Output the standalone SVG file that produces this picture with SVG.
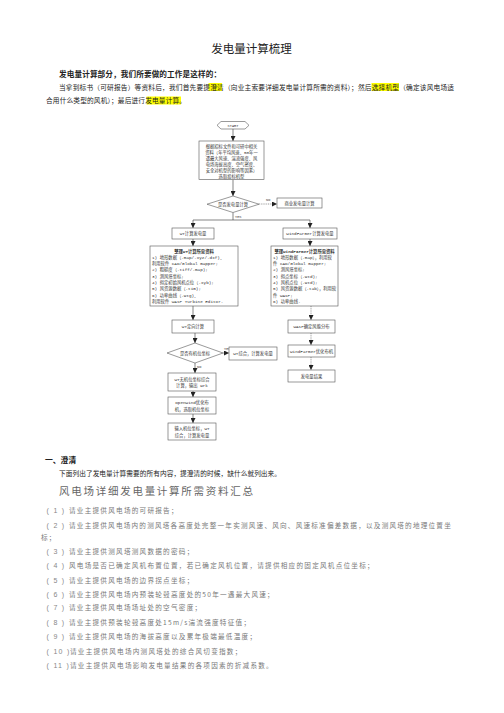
<svg xmlns="http://www.w3.org/2000/svg" width="504" height="713" viewBox="0 0 504 713">
<style>
.t{font-family:"Noto Sans CJK SC","Liberation Sans",sans-serif;fill:#222}
.fc{font-family:"Liberation Mono","Noto Sans CJK SC",monospace;font-size:4.3px;fill:#333}
.box{fill:#fff;stroke:#555;stroke-width:0.6}
.ln{fill:none;stroke:#333;stroke-width:0.6}
.dl{fill:none;stroke:#555;stroke-width:0.6;stroke-dasharray:1 0.8}
.hl{fill:#ffff00}
.li{font-family:"Noto Sans CJK SC","Liberation Sans",sans-serif;font-size:6.6px;fill:#777;letter-spacing:1.25px}
.num{font-family:"Liberation Sans","Noto Sans CJK SC",sans-serif;font-size:7px;fill:#888;letter-spacing:1.3px}
.lab{font-family:"Liberation Mono",monospace;font-size:3.6px;fill:#333}
</style>
<defs>
<marker id="ar" viewBox="0 0 6 6" refX="6" refY="3" markerWidth="5" markerHeight="5" markerUnits="userSpaceOnUse" orient="auto"><path d="M0,0L6,3L0,6z" fill="#222"/></marker>
</defs>

<g id="title">
<text class="t" x="251.5" y="53" font-size="11.5" text-anchor="middle">发电量计算梳理</text>
<text class="t" x="59" y="76.5" font-size="7.6" font-weight="bold" textLength="162">发电量计算部分，我们所要做的工作是这样的：</text>
<rect class="hl" x="208.5" y="83" width="13.5" height="8"/>
<rect class="hl" x="371.5" y="83" width="27.5" height="8"/>
<rect class="hl" x="146.5" y="96.5" width="34.5" height="8"/>
<text class="t" x="59" y="89.5" font-size="6.7" textLength="395">当拿到标书（可研报告）等资料后，我们首先要提澄清（向业主索要详细发电量计算所需的资料）；然后选择机型（确定该风电场适</text>
<text class="t" x="46" y="103" font-size="6.7" textLength="140">合用什么类型的风机）；最后进行发电量计算。</text>
</g>

<g id="connectors">
<path class="ln" d="M233,129V141" marker-end="url(#ar)"/>
<path class="ln" d="M233,179.5V196" marker-end="url(#ar)"/>
<path class="dl" d="M259,204H277" marker-end="url(#ar)"/>
<path class="ln" d="M233,212.5V220H193V228" marker-end="url(#ar)"/>
<path class="ln" d="M233,220H310V228" marker-end="url(#ar)"/>
<path class="ln" d="M193,239V246" marker-end="url(#ar)"/>
<path class="ln" d="M310,239V246" marker-end="url(#ar)"/>
<path class="ln" d="M193,306V320" marker-end="url(#ar)"/>
<path class="ln" d="M195,333V343" marker-end="url(#ar)"/>
<path class="dl" d="M223,353H229" marker-end="url(#ar)"/>
<path class="ln" d="M195,363V373" marker-end="url(#ar)"/>
<path class="ln" d="M193,391V397" marker-end="url(#ar)"/>
<path class="ln" d="M193,414V423" marker-end="url(#ar)"/>
<path class="dl" d="M311,306V320" marker-end="url(#ar)"/>
<path class="dl" d="M311,333V345" marker-end="url(#ar)"/>
<path class="dl" d="M311,357V370" marker-end="url(#ar)"/>
<text class="lab" x="266" y="201">NO</text>
<text class="lab" x="235" y="217.5">YES</text>
<text class="lab" x="224" y="349.5">YES</text>
<text class="lab" x="197" y="367.5">NO</text>
</g>

<g id="start">
<path class="box" d="M221,121.5H245L249,125.3L245,129H221L217,125.3Z"/>
<text class="lab" x="233" y="126.8" text-anchor="middle">START</text>
</g>

<g id="select-model">
<rect class="box" x="199" y="141" width="65" height="38.5"/>
<text class="fc" x="231.5" y="147.5" text-anchor="middle">根据招标文件和可研中相关</text>
<text class="fc" x="231.5" y="153.6" text-anchor="middle">资料（年平均风速、50年一</text>
<text class="fc" x="231.5" y="159.7" text-anchor="middle">遇最大风速、湍流强度、风</text>
<text class="fc" x="231.5" y="165.8" text-anchor="middle">电场海拔高度、空气密度、</text>
<text class="fc" x="231.5" y="171.9" text-anchor="middle">安全对机型的影响等因素）</text>
<text class="fc" x="231.5" y="177.5" text-anchor="middle">选取投标机型</text>
</g>

<g id="decision1">
<path class="box" d="M233,196L259,204.2L233,212.5L207,204.2Z"/>
<text class="fc" x="233" y="205.8" text-anchor="middle">是否发电量计算</text>
</g>

<g id="no-box">
<rect class="box" x="277" y="198" width="45" height="10"/>
<text class="fc" x="299.5" y="204.6" text-anchor="middle">商业发电量计算</text>
</g>

<g id="wt-calc">
<rect class="box" x="172" y="228" width="42" height="11"/>
<text class="fc" x="193" y="235" text-anchor="middle">WT计算发电量</text>
</g>

<g id="wf-calc">
<rect class="box" x="283" y="228" width="54" height="11"/>
<text class="fc" x="310" y="235" text-anchor="middle">WindFarmer计算发电量</text>
</g>

<g id="wt-data">
<rect class="box" x="150" y="246" width="88" height="60"/>
<text class="fc" x="194" y="252.5" text-anchor="middle" font-weight="bold">整理WT计算所需资料</text>
<text class="fc" x="152" y="258.8">1) 地形数据（.map/.xyz/.dxf),</text>
<text class="fc" x="152" y="265.1">利用软件 CAD/Global mapper;</text>
<text class="fc" x="152" y="271.4">2) 粗糙度（.tiff/.map);</text>
<text class="fc" x="152" y="277.7">3) 测风塔坐标;</text>
<text class="fc" x="152" y="284">4) 拟定初始风机点位（.xyb);</text>
<text class="fc" x="152" y="290.3">5) 风资源数据（.tim);</text>
<text class="fc" x="152" y="296.6">6) 功率曲线（.wtg),</text>
<text class="fc" x="152" y="302.9">利用软件 WAsP Turbine Editor.</text>
</g>

<g id="wf-data">
<rect class="box" x="271" y="246" width="67" height="60"/>
<text class="fc" x="304.5" y="252.5" text-anchor="middle" font-weight="bold">整理WindFarmer计算所需资料</text>
<text class="fc" x="273" y="258.8">1) 地形数据（.map），利用软</text>
<text class="fc" x="273" y="265.1">件 CAD/Global mapper;</text>
<text class="fc" x="273" y="271.4">2) 测风塔坐标;</text>
<text class="fc" x="273" y="277.7">3) 拟点坐标（.wtd);</text>
<text class="fc" x="273" y="284">4) 风机点位（.wtd);</text>
<text class="fc" x="273" y="290.3">5) 风资源数据（.tab），利用软</text>
<text class="fc" x="273" y="296.6">件 WAsP;</text>
<text class="fc" x="273" y="302.9">6) 功率曲线.</text>
</g>

<g id="wt-directional">
<rect class="box" x="172" y="320" width="42" height="13"/>
<text class="fc" x="193" y="328" text-anchor="middle">WT定向计算</text>
</g>

<g id="decision2">
<path class="box" d="M195,343L223,353L195,363L167,353Z"/>
<text class="fc" x="195" y="354.6" text-anchor="middle">是否有机位坐标</text>
</g>

<g id="wt-combine">
<rect class="box" x="229" y="347" width="48" height="13"/>
<text class="fc" x="253" y="355" text-anchor="middle">WT综合，计算发电量</text>
</g>

<g id="wt-wrk">
<rect class="box" x="168" y="373" width="48" height="18"/>
<text class="fc" x="192" y="380.5" text-anchor="middle">WT无机位坐标综合</text>
<text class="fc" x="192" y="387" text-anchor="middle">计算，输出 wrk</text>
</g>

<g id="openwind">
<rect class="box" x="168" y="397" width="48" height="17"/>
<text class="fc" x="192" y="404" text-anchor="middle">OpenWind优化布</text>
<text class="fc" x="192" y="410.5" text-anchor="middle">机，选取机位坐标</text>
</g>

<g id="input-coords">
<rect class="box" x="168" y="423" width="48" height="17"/>
<text class="fc" x="192" y="430" text-anchor="middle">输入机位坐标，WT</text>
<text class="fc" x="192" y="436.5" text-anchor="middle">综合，计算发电量</text>
</g>

<g id="wasp">
<rect class="box" x="288" y="320" width="47" height="13"/>
<text class="fc" x="311.5" y="328" text-anchor="middle">WAsP确定风能分布</text>
</g>

<g id="wf-opt">
<rect class="box" x="288" y="345" width="47" height="12"/>
<text class="fc" x="311.5" y="352.5" text-anchor="middle">WindFarmer优化布机</text>
</g>

<g id="result">
<rect class="box" x="288" y="370" width="47" height="12"/>
<text class="fc" x="311.5" y="377.5" text-anchor="middle">发电量结果</text>
</g>

<g id="section1">
<text class="t" x="45" y="463" font-size="7.8" font-weight="bold">一、澄清</text>
<text class="t" x="59" y="475.5" font-size="6.7" textLength="222">下面列出了发电量计算需要的所有内容，提澄清的时候，缺什么就列出来。</text>
<text class="t" x="59" y="494.5" font-size="10.5" style="fill:#666" textLength="194">风电场详细发电量计算所需资料汇总</text>
</g>

<g id="list">
<text class="num" x="46.5" y="513">( 1 )</text>
<text class="li" x="69" y="513">请业主提供风电场的可研报告；</text>
<text class="num" x="46.5" y="527.5">( 2 )</text>
<text class="li" x="69" y="527.5" textLength="383">请业主提供风电场内的测风塔各高度处完整一年实测风速、风向、风速标准偏差数据，以及测风塔的地理位置坐</text>
<text class="li" x="41" y="539.5">标；</text>
<text class="num" x="46.5" y="553.5">( 3 )</text>
<text class="li" x="69" y="553.5">请业主提供测风塔测风数据的密码；</text>
<text class="num" x="46.5" y="567.5">( 4 )</text>
<text class="li" x="69" y="567.5">风电场是否已确定风机布置位置，若已确定风机位置，请提供相应的固定风机点位坐标；</text>
<text class="num" x="46.5" y="582.5">( 5 )</text>
<text class="li" x="69" y="582.5">请业主提供风电场的边界拐点坐标；</text>
<text class="num" x="46.5" y="596.5">( 6 )</text>
<text class="li" x="69" y="596.5">请业主提供风电场内预装轮毂高度处的50年一遇最大风速；</text>
<text class="num" x="46.5" y="610">( 7 )</text>
<text class="li" x="69" y="610">请业主提供风电场场址处的空气密度；</text>
<text class="num" x="46.5" y="625">( 8 )</text>
<text class="li" x="69" y="625">请业主提供预装轮毂高度处15m/s湍流强度特征值；</text>
<text class="num" x="46.5" y="639">( 9 )</text>
<text class="li" x="69" y="639">请业主提供风电场的海拔高度以及累年极端最低温度；</text>
<text class="num" x="46.5" y="654">( 10 )</text>
<text class="li" x="70" y="654">请业主提供风电场内测风塔处的综合风切变指数；</text>
<text class="num" x="46.5" y="667.5">( 11 )</text>
<text class="li" x="70" y="667.5">请业主提供风电场影响发电量结果的各项因素的折减系数。</text>
</g>
</svg>
